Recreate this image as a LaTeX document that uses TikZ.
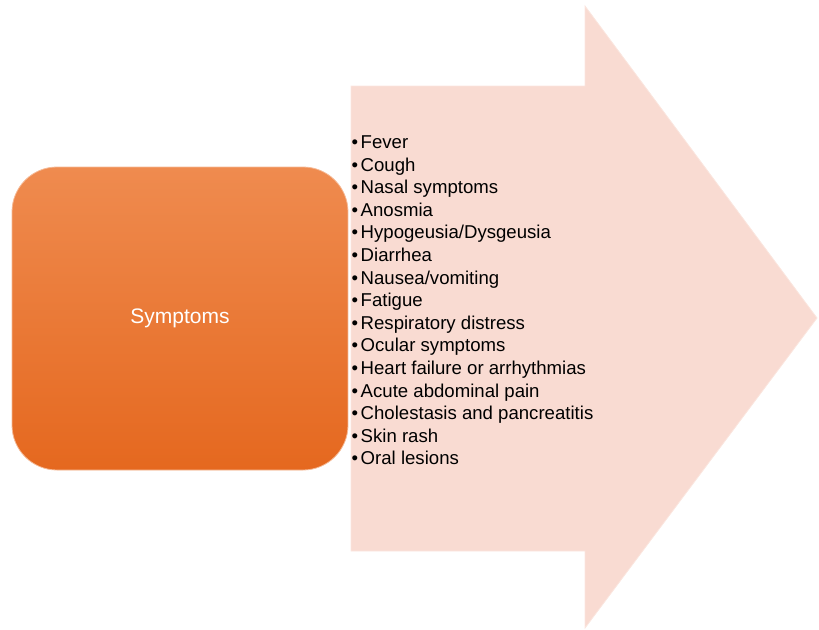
\documentclass[tikz,border=0pt]{standalone}
\usepackage{fontspec}
\setmainfont{Liberation Sans}
\definecolor{SymTop}{HTML}{EF8B4F}
\definecolor{SymMid}{HTML}{F17A26}
\definecolor{SymBot}{HTML}{E5681F}
\definecolor{ArrowPink}{HTML}{F9DBD2}
\usetikzlibrary{positioning}

\begin{document}
\begin{tikzpicture}[x=1pt,y=-1pt,
    symbox/.style={rounded corners=45pt,minimum width=336pt,minimum height=303pt,
      top color=SymTop,middle color=SymMid,bottom color=SymBot,draw=SymTop!60!white,line width=0.8pt,
      text=white,font=\fontsize{21}{25}\selectfont},
    item/.style={anchor=base west,inner sep=0pt,font=\fontsize{18.6}{22.6}\selectfont}]
  \useasboundingbox (0,0) rectangle (819,629);
  % big arrow
  \fill[ArrowPink,draw=ArrowPink!70!white,line width=0.8pt]
    (351,86) -- (585,86) -- (585,6) -- (817,318) -- (585,628) -- (585,551) -- (351,551) -- cycle;
  \node[symbox] (symptoms) at (180,318.5) {Symptoms};
  \foreach \txt [count=\i] in {Fever,Cough,Nasal symptoms,Anosmia,Hypogeusia/Dysgeusia,Diarrhea,
      Nausea/vomiting,Fatigue,Respiratory distress,Ocular symptoms,Heart failure or arrhythmias,
      Acute abdominal pain,Cholestasis and pancreatitis,Skin rash,Oral lesions}
    \node[item] (item-\i) at (351.5,{148.5+22.6*(\i-1)}) {\textbullet\hspace{2.5pt}\txt};
\end{tikzpicture}
\end{document}
